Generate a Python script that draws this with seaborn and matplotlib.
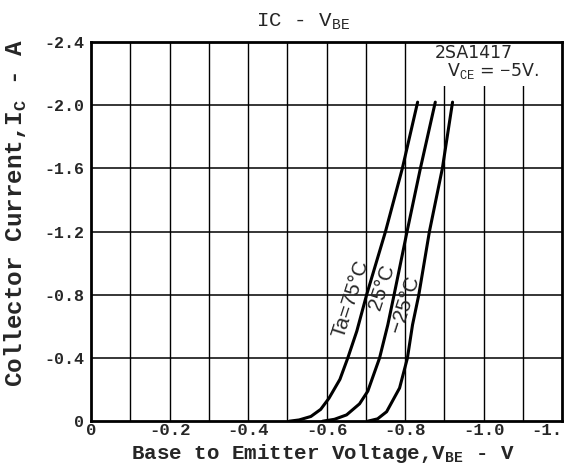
import numpy as np
import pandas as pd
import matplotlib.pyplot as plt
import seaborn as sns
from matplotlib.patches import Rectangle

# Ic - Vbe curves
vbe_75 = [-0.505, -0.53, -0.56, -0.585, -0.606, -0.634, -0.654, -0.677, -0.702, -0.750, -0.793, -0.832]
ic_75 = [0.0, -0.008, -0.03, -0.075, -0.145, -0.265, -0.40, -0.57, -0.80, -1.20, -1.60, -2.02]
vbe_25 = [-0.59, -0.62, -0.651, -0.684, -0.705, -0.735, -0.756, -0.772, -0.805, -0.839, -0.877]
ic_25 = [0.0, -0.012, -0.04, -0.11, -0.19, -0.40, -0.61, -0.80, -1.20, -1.60, -2.02]
vbe_m25 = [-0.705, -0.73, -0.753, -0.786, -0.806, -0.819, -0.835, -0.862, -0.895, -0.921]
ic_m25 = [0.0, -0.015, -0.06, -0.21, -0.40, -0.61, -0.80, -1.20, -1.60, -2.02]

x_ticks = [0, -0.2, -0.4, -0.6, -0.8, -1.0, -1.2]
x_labels = ["0", "-0.2", "-0.4", "-0.6", "-0.8", "-1.0", "-1."]
y_ticks = [0, -0.4, -0.8, -1.2, -1.6, -2.0, -2.4]
y_labels = ["0", "-0.4", "-0.8", "-1.2", "-1.6", "-2.0", "-2.4"]

sns.set_style("white")
plt.rcParams["font.family"] = ["Liberation Mono", "DejaVu Sans Mono"]
plt.rcParams["mathtext.fontset"] = "custom"
plt.rcParams["mathtext.rm"] = "Liberation Mono"
plt.rcParams["mathtext.bf"] = "Liberation Mono:bold"

fig = plt.figure(figsize=(5.66, 4.68), dpi=100)
ax = fig.add_axes([0.161, 0.100, 0.832, 0.810])

for vbe, ic in [(vbe_75, ic_75), (vbe_25, ic_25), (vbe_m25, ic_m25)]:
    df = pd.DataFrame({"Vbe": vbe, "Ic": ic})
    sns.lineplot(data=df, x="Vbe", y="Ic", sort=False, color="black", linewidth=2.2, ax=ax, zorder=3)

ax.set_xlim(0, -1.2)
ax.set_ylim(0, -2.4)

# grid: every 0.1 V, every 0.4 A
for v in np.arange(-0.1, -1.15, -0.1):
    ax.axvline(v, color="black", linewidth=1, zorder=1)
for i in [-0.4, -0.8, -1.2, -1.6, -2.0]:
    ax.axhline(i, color="black", linewidth=1.1, zorder=1)

# white patch behind the part label
ax.add_patch(Rectangle((-0.83, -2.4), -0.4, 0.28, facecolor="white", edgecolor="none", zorder=2))
ax.text(-0.975, -2.33, "2SA1417", fontsize=12.5, family="DejaVu Sans",
        ha="center", va="center", zorder=4)
ax.text(-1.025, -2.22, r"V$_{\rm CE}$ = $-$5V.", fontsize=12.5, family="DejaVu Sans",
        ha="center", va="center", zorder=4)

# curve labels
ax.text(-0.662, -0.775, "Ta=75°C", rotation=72, fontsize=15, family="Liberation Sans",
        ha="center", va="center", zorder=4)
ax.text(-0.742, -0.85, "25°C", rotation=72, fontsize=15, family="Liberation Sans",
        ha="center", va="center", zorder=4)
ax.text(-0.80, -0.74, "−25°C", rotation=72, fontsize=15, family="Liberation Sans",
        ha="center", va="center", zorder=4)

ax.set_xticks(x_ticks)
ax.set_xticklabels(x_labels, fontsize=12.5, fontweight="bold")
ax.get_xticklabels()[-1].set_ha("right")
ax.set_yticks(y_ticks)
ax.set_yticklabels(y_labels, fontsize=12, fontweight="bold")
ax.tick_params(axis="x", length=0, pad=1.5)
ax.tick_params(axis="y", length=0, pad=5)
ax.set_xlabel("")
ax.set_ylabel("")

for s in ax.spines.values():
    s.set_color("black")
    s.set_linewidth(2)

fig.text(0.536, 0.953, r"IC - V$_{\rm BE}$", fontsize=15, ha="center", va="center")
fig.text(0.571, 0.030, r"Base to Emitter Voltage,V$_{\bf BE}$ - V", fontsize=15,
         fontweight="bold", ha="center", va="center")
fig.text(0.028, 0.545, r"Collector Current,I$_{\bf C}$ - A", fontsize=17.5,
         fontweight="bold", rotation=90, ha="center", va="center")

fig.savefig("out.png", dpi=100)
